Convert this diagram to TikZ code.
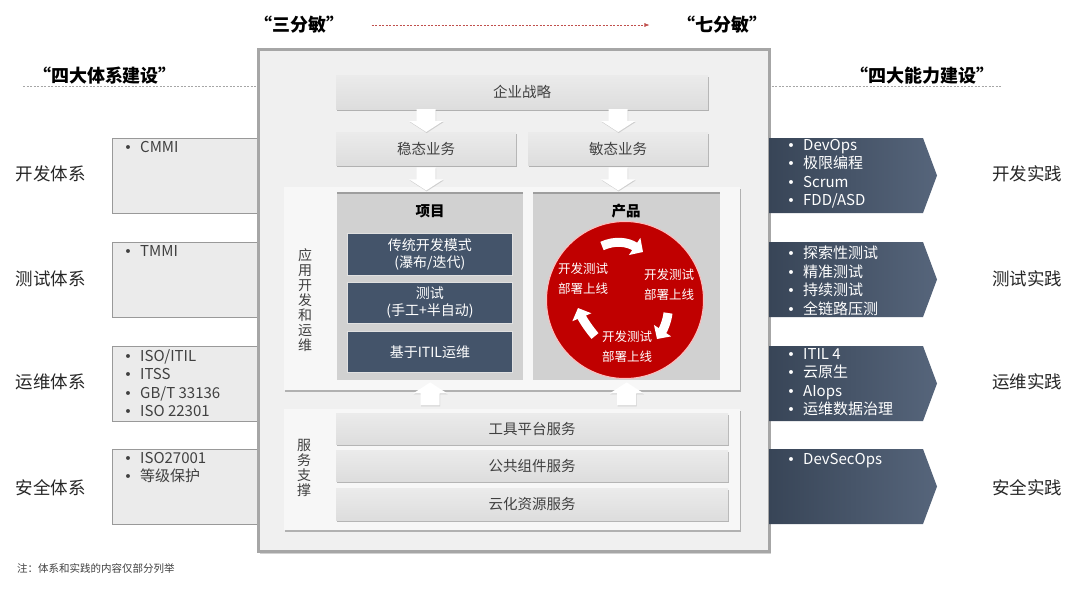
\documentclass[tikz,border=0pt]{standalone}
\usepackage{fontspec}
\setmainfont{Noto Sans CJK SC}
\newfontfamily\bulfont{DejaVu Sans}
\usetikzlibrary{shadows,arrows.meta,calc}
\definecolor{boxtop}{HTML}{EBEBEB}
\definecolor{boxbot}{HTML}{DDDDDD}
\definecolor{navy}{HTML}{44546A}
\definecolor{navyL}{HTML}{384557}
\definecolor{navyR}{HTML}{56657B}
\definecolor{cred}{HTML}{C00000}
\definecolor{txtgray}{HTML}{404040}
\definecolor{lred}{HTML}{C0504D}
\newcommand{\mybul}{\makebox[16pt][l]{{\bulfont\fontsize{13.5}{12}\selectfont •}}}
\begin{document}
\begin{tikzpicture}[x=1pt,y=-1pt,
  shd/.style={drop shadow={shadow xshift=0.8pt,shadow yshift=-1.8pt,opacity=0.45,fill=black!60}},
  graybox/.style={shd,top color=boxtop,bottom color=boxbot,draw=none,inner sep=0pt,
     text=txtgray,font=\fontsize{14.5}{16}\selectfont,anchor=north west},
  panel/.style={shd,fill=black!3,draw=none,inner sep=0pt,anchor=north west},
  subpanel/.style={fill=black!18,draw=none,inner sep=0pt,anchor=north west},
  darkbox/.style={fill=navy,draw=black!12,line width=0.9pt,inner sep=0pt,text=white,
     align=center,font=\fontsize{14}{17}\selectfont,anchor=north west},
  leftbox/.style={fill=black!8,draw=black!40,line width=0.6pt,inner sep=0pt,anchor=north west,
     minimum width=150pt,minimum height=75pt},
  listl/.style={anchor=north west,align=left,inner sep=0pt,text=txtgray,
     font=\fontsize{15}{18.5}\selectfont},
  listr/.style={anchor=north west,align=left,inner sep=0pt,text=white,
     font=\fontsize{15}{18.5}\selectfont},
  sidelab/.style={font=\fontsize{17.5}{20}\selectfont,text=black!85},
  title/.style={font=\bfseries\fontsize{18}{20}\selectfont,text=black},
  vlab/.style={align=center,font=\fontsize{14}{15}\selectfont,text=txtgray,inner sep=0pt},
  ctext/.style={align=center,font=\fontsize{12.5}{20}\selectfont,text=white,inner sep=0pt},
  carrow/.style={white,line width=9pt,-{Triangle[length=10pt,width=20pt]}},
  blockdown/.pic={\fill[white,drop shadow={shadow xshift=0.5pt,shadow yshift=-1pt,opacity=0.3}]
     (-9.5,-23) -- (9.5,-23) -- (9.5,-11) -- (17,-11) -- (0,0) -- (-17,-11) -- (-9.5,-11) -- cycle;},
  blockup/.pic={\fill[white,drop shadow={shadow xshift=0.5pt,shadow yshift=-1pt,opacity=0.3}]
     (-9.5,23) -- (9.5,23) -- (9.5,11) -- (17,11) -- (0,0) -- (-17,11) -- (-9.5,11) -- cycle;}
]
\useasboundingbox[fill=white] (0,0) rectangle (1080,592);

% titles and dashed lines
\node[title] (t3) at (299,25) {“三分敏”};
\node[title] (t7) at (722,25) {“七分敏”};
\coordinate (da) at ($(t3.east)+(24,0)$);
\coordinate (db) at ($(t7.west)+(-24,0)$);
\draw[lred,line width=0.6pt,dash pattern=on 2pt off 1.5pt,-{Latex[length=5pt,width=4pt]}] (da) -- (db);
\node[title] (t4a) at (105,76) {“四大体系建设”};
\node[title] (t4b) at (922,76) {“四大能力建设”};
\coordinate (gl1) at (23,86); \coordinate (gl2) at (257,86);
\coordinate (gr1) at (768,86); \coordinate (gr2) at (1002,86);
\draw[black!35,line width=0.5pt,dash pattern=on 2pt off 1.5pt] (gl1) -- (gl2);
\draw[black!35,line width=0.5pt,dash pattern=on 2pt off 1.5pt] (gr1) -- (gr2);

% left boxes
\node[leftbox] (lb1) at (112,138) {};
\node[leftbox] (lb2) at (112,242) {};
\node[leftbox] (lb3) at (112,346) {};
\node[leftbox] (lb4) at (112,449) {};
\node[listl] (ll1) at (124,141) {\mybul CMMI};
\node[listl] (ll2) at (124,245) {\mybul TMMI};
\node[listl] (ll3) at (124,349) {\mybul ISO/ITIL\\\mybul ITSS\\\mybul GB/T 33136\\\mybul ISO 22301};
\node[listl] (ll4) at (124,452) {\mybul ISO27001\\\mybul 等级保护};
\node[sidelab] (sl1) at (51,174) {开发体系};
\node[sidelab] (sl2) at (51,279) {测试体系};
\node[sidelab] (sl3) at (51,382) {运维体系};
\node[sidelab] (sl4) at (51,488) {安全体系};

% main box
\node[anchor=north west,inner sep=0pt,minimum width=511pt,minimum height=502pt,
  fill=black!6,draw=black!35,line width=2.5pt,
  drop shadow={shadow xshift=2pt,shadow yshift=-2.5pt,opacity=0.35}] (main) at (257,48) {};

% top boxes
\node[graybox,minimum width=372pt,minimum height=34pt] (zl) at (336,75) {企业战略};
\node[graybox,minimum width=180pt,minimum height=33pt] (wt) at (336,132) {稳态业务};
\node[graybox,minimum width=180pt,minimum height=33pt] (mt) at (528,132) {敏态业务};
\pic at (wt.north) {blockdown};
\pic at (mt.north) {blockdown};

% application panel
\node[panel,minimum width=456pt,minimum height=203pt] (app) at (284,187) {};
\pic at ($(wt.south)+(0,25)$) {blockdown};
\pic at ($(mt.south)+(0,25)$) {blockdown};
\node[vlab] (v1) at (305,300) {应\\用\\开\\发\\和\\运\\维};
\node[subpanel,minimum width=186pt,minimum height=187pt] (xm) at (337,193) {};
\node[subpanel,minimum width=187pt,minimum height=187pt] (cp) at (533,193) {};
\draw[black!38,line width=1.2pt] (xm.north west) -- (xm.north east);
\draw[black!38,line width=1.2pt] (cp.north west) -- (cp.north east);
\node[font=\bfseries\fontsize{14.5}{16}\selectfont] (xmh) at (430,211) {项目};
\node[font=\bfseries\fontsize{14.5}{16}\selectfont] (cph) at (626,211) {产品};
\node[darkbox,minimum width=165pt,minimum height=42pt] (d1) at (347,233) {传统开发模式\\(瀑布/迭代)};
\node[darkbox,minimum width=165pt,minimum height=41pt] (d2) at (347,282) {测试\\(手工+半自动)};
\node[darkbox,minimum width=165pt,minimum height=41pt] (d3) at (347,331) {基于ITIL运维};

% red circle
\node[circle,fill=cred,draw=red!25,line width=1pt,minimum size=157pt,inner sep=0pt] (cir) at (625,300) {};
\coordinate (a1s) at (602,246); \coordinate (a1e) at (643,252);
\coordinate (a2s) at (668,313); \coordinate (a2e) at (657,339);
\coordinate (a3s) at (595,336); \coordinate (a3e) at (578,308);
\draw[carrow] (a1s) .. controls (615,240) and (628,242) .. (a1e);
\draw[carrow] (a2s) .. controls (667,322) and (663,330) .. (a2e);
\draw[carrow] (a3s) .. controls (589,329) and (583,320) .. (a3e);
\node[ctext] (c1) at (583,279) {开发测试\\部署上线};
\node[ctext] (c2) at (669,285) {开发测试\\部署上线};
\node[ctext] (c3) at (627,347) {开发测试\\部署上线};

% service panel
\node[panel,minimum width=456pt,minimum height=121pt] (svc) at (284,409) {};
\pic at ($(xm.south)+(0,2)$) {blockup};
\pic at ($(cp.south)+(0,2)$) {blockup};
\node[vlab] (v2) at (304,468) {服\\务\\支\\撑};
\node[graybox,minimum width=392pt,minimum height=31pt] (s1) at (336,413) {工具平台服务};
\node[graybox,minimum width=392pt,minimum height=31pt] (s2) at (336,450) {公共组件服务};
\node[graybox,minimum width=392pt,minimum height=32pt] (s3) at (336,488) {云化资源服务};

% right practice arrows
\foreach \t in {138,242,346,449}{
  \shade[left color=navyL,right color=navyR]
    (769,\t) -- (923,\t) -- (937,\t+37.5) -- (923,\t+75) -- (769,\t+75) -- cycle;
}
\node[listr] (lr1) at (787,139) {\mybul DevOps\\\mybul 极限编程\\\mybul Scrum\\\mybul FDD/ASD};
\node[listr] (lr2) at (787,246) {\mybul 探索性测试\\\mybul 精准测试\\\mybul 持续测试\\\mybul 全链路压测};
\node[listr] (lr3) at (787,348) {\mybul ITIL 4\\\mybul 云原生\\\mybul AIops\\\mybul 运维数据治理};
\node[listr] (lr4) at (787,453) {\mybul DevSecOps};
\node[sidelab] (sr1) at (1027,174) {开发实践};
\node[sidelab] (sr2) at (1027,279) {测试实践};
\node[sidelab] (sr3) at (1027,382) {运维实践};
\node[sidelab] (sr4) at (1027,488) {安全实践};

\node[anchor=west,inner sep=0pt,font=\fontsize{10.5}{12}\selectfont,text=txtgray] (note) at (17,568) {注：体系和实践的内容仅部分列举};
\end{tikzpicture}
\end{document}
